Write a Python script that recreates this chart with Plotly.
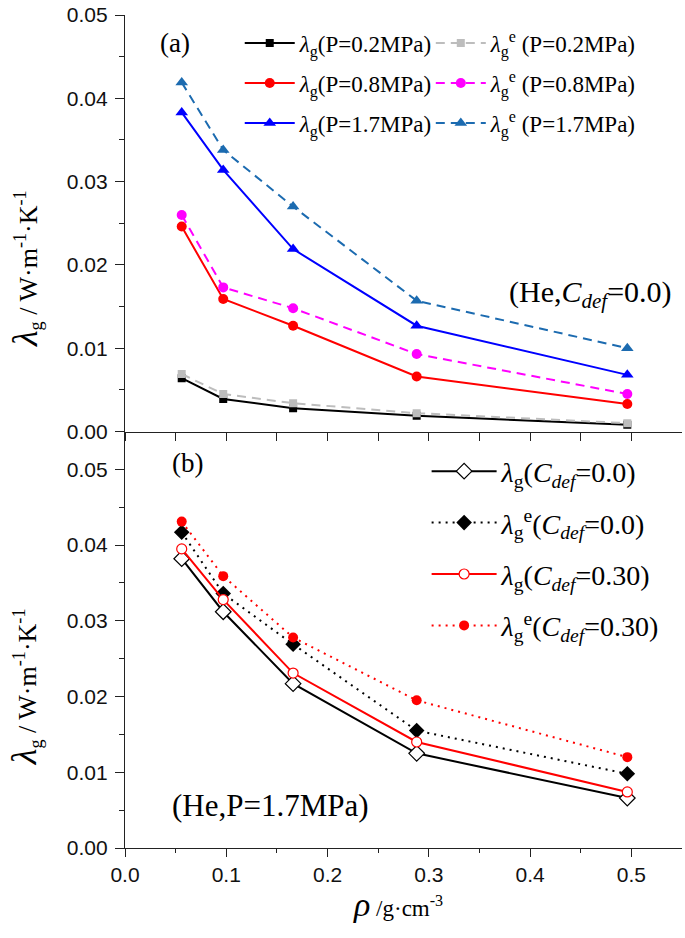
import plotly.graph_objects as go

# ---------------- data ----------------
x_rho = [0.056, 0.097, 0.166, 0.288, 0.496]

# panel (a): He, C_def = 0.0
a_lam_02 = [0.0064, 0.0039, 0.0028, 0.0019, 0.0008]
a_lamE_02 = [0.0069, 0.0045, 0.0034, 0.0022, 0.0010]
a_lam_08 = [0.0246, 0.0159, 0.0127, 0.0066, 0.0033]
a_lamE_08 = [0.0260, 0.0173, 0.0148, 0.0093, 0.0045]
a_lam_17 = [0.0383, 0.0314, 0.0219, 0.0127, 0.0068]
a_lamE_17 = [0.0419, 0.0338, 0.0270, 0.0157, 0.0100]

# panel (b): He, P = 1.7 MPa
b_lam_c0 = [0.0382, 0.0312, 0.0217, 0.0125, 0.0066]
b_lamE_c0 = [0.0417, 0.0336, 0.0269, 0.0155, 0.0098]
b_lam_c30 = [0.0395, 0.0328, 0.0231, 0.0140, 0.0074]
b_lamE_c30 = [0.0431, 0.0359, 0.0278, 0.0195, 0.0120]

x_ticks = [0.0, 0.1, 0.2, 0.3, 0.4, 0.5]
y_ticks = [0.00, 0.01, 0.02, 0.03, 0.04, 0.05]

SERIF = "Liberation Serif"
SANS = "Liberation Sans"

fig = go.Figure()

LG = "<i>λ</i><sub>g</sub>"
LGE = "<i>λ</i><sub>g</sub><sup>e</sup>"


def add(y, name, color, dash, symbol, size, xa, ya, legend, group, fill=None, mline=None):
    marker = dict(symbol=symbol, size=size, color=fill if fill else color)
    if mline:
        marker["line"] = dict(color=mline, width=1.2)
    fig.add_trace(go.Scatter(
        x=x_rho, y=y, name=name, mode="lines+markers",
        line=dict(color=color, width=2, dash=dash), marker=marker,
        xaxis=xa, yaxis=ya, legend=legend, legendgroup=group))


DASH = "9px,6px"
DOT = "2px,5px"
BLUE2 = "#1c6bb0"

# panel a
add(a_lam_02, LG + "(P=0.2MPa)", "black", "solid", "square", 8, "x", "y", "legend", "a1")
add(a_lam_08, LG + "(P=0.8MPa)", "#ff0000", "solid", "circle", 10, "x", "y", "legend", "a2")
add(a_lam_17, LG + "(P=1.7MPa)", "#0000ff", "solid", "triangle-up", 11, "x", "y", "legend", "a3")
add(a_lamE_02, LGE + " (P=0.2MPa)", "#bdbdbd", DASH, "square", 8, "x", "y", "legend2", "a4")
add(a_lamE_08, LGE + " (P=0.8MPa)", "#ff00ff", DASH, "circle", 10, "x", "y", "legend2", "a5")
add(a_lamE_17, LGE + " (P=1.7MPa)", BLUE2, DASH, "triangle-up", 11, "x", "y", "legend2", "a6")

# panel b
CD = "(<i>C</i><sub><i>def</i></sub>"
add(b_lam_c0, LG + CD + "=0.0)", "black", "solid", "diamond", 12, "x2", "y2", "legend3", "b1",
    fill="white", mline="black")
add(b_lamE_c0, LGE + CD + "=0.0)", "black", DOT, "diamond", 12, "x2", "y2", "legend3", "b2")
add(b_lam_c30, LG + CD + "=0.30)", "#ff0000", "solid", "circle", 10, "x2", "y2", "legend3", "b3",
    fill="white", mline="#ff0000")
add(b_lamE_c30, LGE + CD + "=0.30)", "#ff0000", DOT, "circle", 10, "x2", "y2", "legend3", "b4")

AX = dict(showgrid=False, zeroline=False, showline=True, linecolor="#222", linewidth=1.3,
          tickcolor="#222", tickwidth=1.3,
          tickfont=dict(family=SANS, size=21, color="#111"))
MINX = [0.05, 0.15, 0.25, 0.35, 0.45]

xr = [0, 0.55]
fig.update_layout(
    xaxis=dict(AX, domain=[0, 1], anchor="y", range=xr, tickvals=x_ticks, ticks="outside",
               ticklen=8, showticklabels=False,
               minor=dict(tickvals=MINX, ticks="outside", ticklen=8,
                          tickcolor="#222", tickwidth=1.3)),
    xaxis2=dict(AX, domain=[0, 1], anchor="y2", range=xr, tickvals=x_ticks,
                ticktext=[f"{v:.1f}" for v in x_ticks], ticks="outside", ticklen=8,
                minor=dict(tickvals=MINX, ticks="outside", ticklen=4,
                           tickcolor="#222", tickwidth=1.3)),
    xaxis3=dict(AX, overlaying="x", anchor="y", side="top", range=xr, tickvals=x_ticks,
                ticks="inside", ticklen=5, showticklabels=False,
                minor=dict(tickvals=MINX, ticks="inside", ticklen=5,
                           tickcolor="#222", tickwidth=1.3)),
    yaxis=dict(AX, domain=[0.5, 1], anchor="x", range=[0, 0.05], tickvals=y_ticks,
               ticktext=[f"{v:.2f}" for v in y_ticks], ticks="outside", ticklen=9,
               ticklabelstandoff=3,
               minor=dict(dtick=0.005, tick0=0, ticks="outside", ticklen=5,
                          tickcolor="#222", tickwidth=1.3)),
    yaxis2=dict(AX, domain=[0, 0.5], anchor="x2", range=[0, 0.055], tickvals=y_ticks,
                ticktext=[f"{v:.2f}" for v in y_ticks], ticks="outside", ticklen=9,
                ticklabelstandoff=3,
                minor=dict(dtick=0.005, tick0=0, ticks="outside", ticklen=5,
                           tickcolor="#222", tickwidth=1.3)),
    yaxis3=dict(AX, overlaying="y", anchor="x", side="right", range=[0, 0.05], tickvals=y_ticks,
                ticks="inside", ticklen=9, showticklabels=False,
                minor=dict(dtick=0.005, tick0=0, ticks="inside", ticklen=5,
                           tickcolor="#222", tickwidth=1.3)),
    yaxis4=dict(AX, overlaying="y2", anchor="x2", side="right", range=[0, 0.055], tickvals=y_ticks,
                ticks="inside", ticklen=9, showticklabels=False,
                minor=dict(dtick=0.005, tick0=0, ticks="inside", ticklen=5,
                           tickcolor="#222", tickwidth=1.3)),
)

LEG = dict(bgcolor="rgba(0,0,0,0)", borderwidth=0, traceorder="grouped", xanchor="left",
           yanchor="top", itemclick=False, itemdoubleclick=False)
fig.update_layout(
    legend=dict(LEG, x=0.206, y=0.992, tracegroupgap=7, itemwidth=50,
                font=dict(family=SERIF, size=23, color="black")),
    legend2=dict(LEG, x=0.549, y=0.992, tracegroupgap=7, itemwidth=50,
                 font=dict(family=SERIF, size=23, color="black")),
    legend3=dict(LEG, x=0.5415, y=0.482, tracegroupgap=12, itemwidth=65,
                 font=dict(family=SERIF, size=28, color="black")),
)

YT = "<span style='font-size:36px'><i>λ</i></span><sub>g</sub> / W·m<sup>-1</sup>·K<sup>-1</sup>"
ann = [
    dict(text="(a)", x=0.06, y=0.966, xanchor="left", yanchor="middle", font=dict(size=27)),
    dict(text="(b)", x=0.08, y=0.462, xanchor="left", yanchor="middle", font=dict(size=27)),
    dict(text="(He,<i>C</i><sub><i>def</i></sub>=0.0)", x=0.985, y=0.665, xanchor="right",
         yanchor="middle", font=dict(size=30)),
    dict(text="(He,P=1.7MPa)", x=0.08, y=0.051, xanchor="left", yanchor="middle",
         font=dict(size=31)),
    dict(text=YT, x=-0.18, y=0.696, textangle=-90, xanchor="center", yanchor="middle",
         font=dict(size=26)),
    dict(text=YT, x=-0.18, y=0.194, textangle=-90, xanchor="center", yanchor="middle",
         font=dict(size=26)),
    dict(text="<span style='font-size:34px'><i>ρ</i></span> /g·cm<sup>-3</sup>",
         x=0.49, y=-0.068, xanchor="center", yanchor="middle", font=dict(size=23)),
]
for a in ann:
    a.update(xref="paper", yref="paper", showarrow=False)
    a["font"] = dict(family=SERIF, color="black", **a["font"])
fig.update_layout(annotations=ann)

fig.update_layout(
    width=685, height=938, paper_bgcolor="white", plot_bgcolor="white",
    margin=dict(l=125, r=3, t=13, b=90), showlegend=True,
)

fig.write_html("out.html", config={"displayModeBar": False},
               post_script="document.body.style.margin='0';")
